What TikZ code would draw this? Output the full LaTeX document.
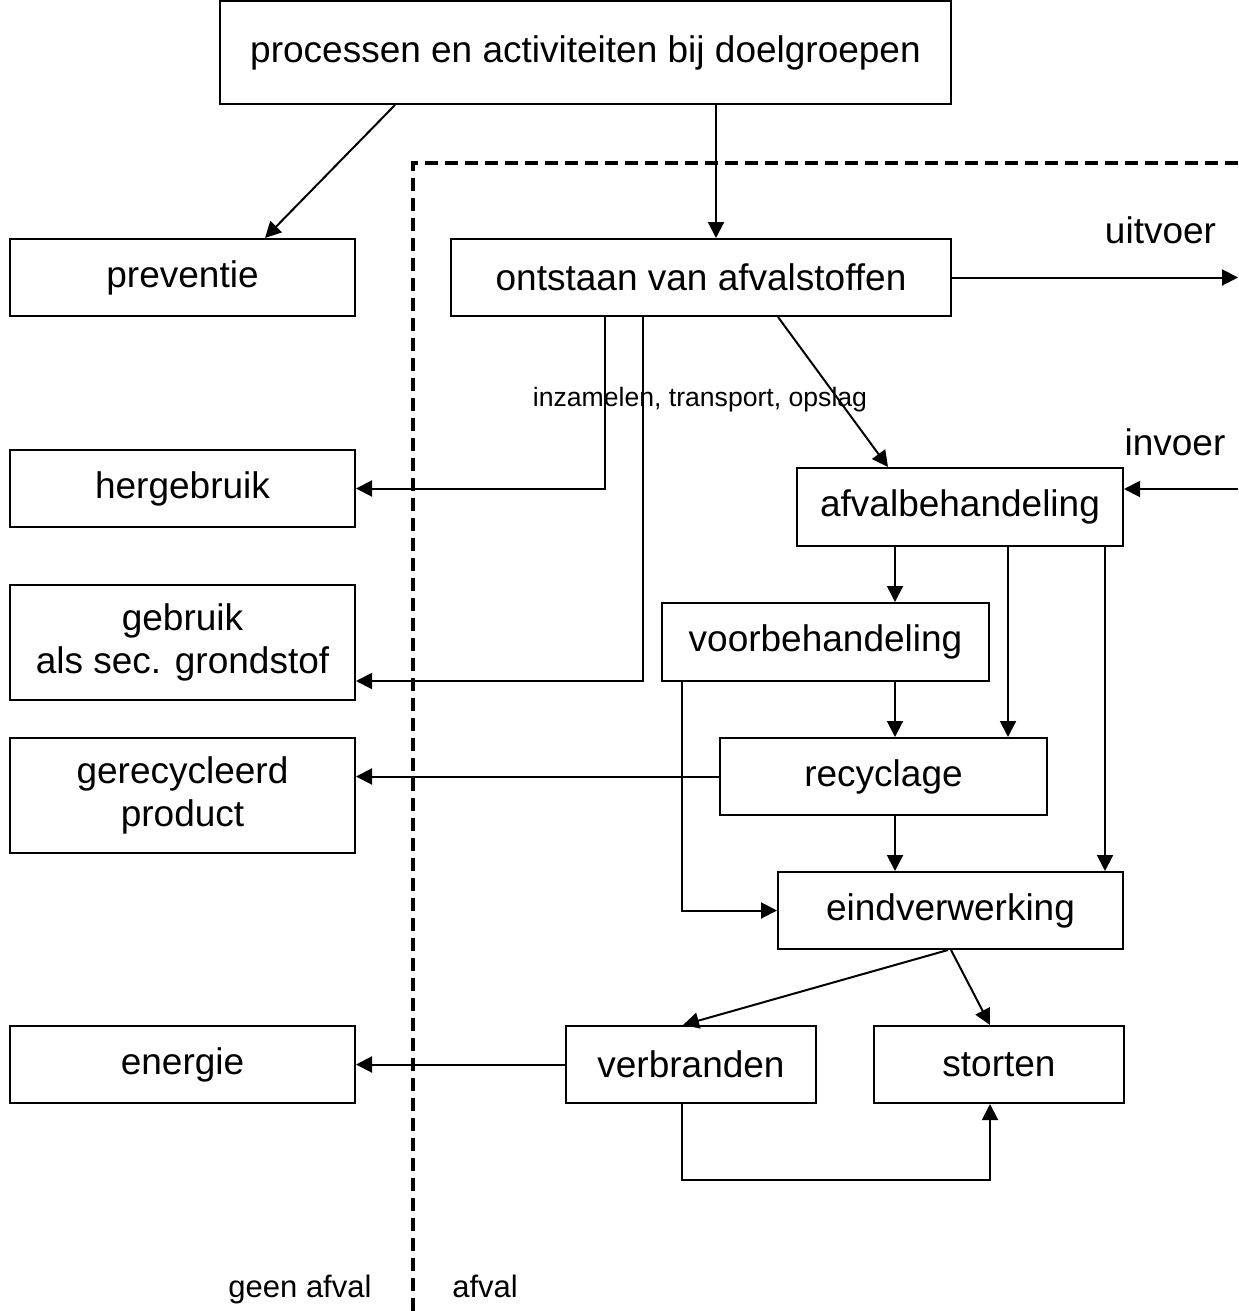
\documentclass[tikz,border=0pt]{standalone}
\usepackage{fontspec}
\setmainfont{Liberation Sans}
\usetikzlibrary{arrows.meta}
\begin{document}
\begin{tikzpicture}[x=0.5pt,y=-0.5pt,
  box/.style={draw,line width=1pt,inner sep=0pt,align=center,font=\fontsize{18.5}{21.5}\selectfont},
  arr/.style={line width=1pt,-{Triangle[length=8pt,width=8pt]}},
  dashline/.style={line width=1.7pt,dash pattern=on 6.5pt off 3.5pt},
  lbl/.style={inner sep=0pt,font=\fontsize{18.5}{21.5}\selectfont},
  smalllbl/.style={inner sep=0pt,font=\fontsize{13.3}{16}\selectfont},
  botlbl/.style={inner sep=0pt,anchor=base,font=\fontsize{15.5}{18}\selectfont}]
\useasboundingbox (0,0) rectangle (1238,1311);

\node[box,minimum width=365.5pt,minimum height=51.5pt] (top) at (585.5,52.5) {processen en activiteiten bij doelgroepen};
\node[box,minimum width=172.5pt,minimum height=38.5pt] (preventie) at (182.5,277.5) {preventie};
\node[box,minimum width=250pt,minimum height=38.5pt] (ontstaan) at (701,277.5) {ontstaan van afvalstoffen};
\node[box,minimum width=172.5pt,minimum height=38.5pt] (hergebruik) at (182.5,488.5) {hergebruik};
\node[box,minimum width=163pt,minimum height=39pt] (afvalbeh) at (960,507) {afvalbehandeling};
\node[box,minimum width=172.5pt,minimum height=57.5pt] (gebruik) at (182.5,642.5) {gebruik\\als sec. grondstof};
\node[box,minimum width=163.5pt,minimum height=39pt] (voorbeh) at (825.5,642) {voorbehandeling};
\node[box,minimum width=172.5pt,minimum height=57.5pt] (gerec) at (182.5,795.5) {gerecycleerd\\product};
\node[box,minimum width=163.5pt,minimum height=38.5pt] (recyclage) at (883.5,776.5) {recyclage};
\node[box,minimum width=172.5pt,minimum height=38.5pt] (eind) at (950.5,910.5) {eindverwerking};
\node[box,minimum width=172.5pt,minimum height=38.5pt] (energie) at (182.5,1064.5) {energie};
\node[box,minimum width=125pt,minimum height=38.5pt] (verbranden) at (691,1064.5) {verbranden};
\node[box,minimum width=125pt,minimum height=38.5pt] (storten) at (999,1064.5) {storten};

\node[lbl] (uitvoer) at (1160.5,230) {uitvoer};
\node[lbl] (invoer) at (1175,442) {invoer};
\node[smalllbl] (inzamelen) at (700,400) {inzamelen, transport, opslag};
\node[botlbl] (geen) at (300,1297) {geen afval};
\node[botlbl] (afval) at (485,1297) {afval};

\coordinate (uitE) at (1238,277.5);
\coordinate (invE) at (1238,489);

\draw[dashline] (413,1311) -- (413,163) -- (1238,163);

\draw[arr] (395,0 |- top.south) -- (265,0 |- preventie.north);
\draw[arr] (716,0 |- top.south) -- (716,0 |- ontstaan.north);
\draw[arr] (ontstaan.east) -- (uitE);
\draw[arr] (605,0 |- ontstaan.south) |- (hergebruik.east);
\draw[arr] (643,0 |- ontstaan.south) |- (gebruik.east |- 0,681);
\draw[arr] (778,0 |- ontstaan.south) -- (888,0 |- afvalbeh.north);
\draw[arr] (invE) -- (afvalbeh.east |- invE);
\draw[arr] (895,0 |- afvalbeh.south) -- (895,0 |- voorbeh.north);
\draw[arr] (1008,0 |- afvalbeh.south) -- (1008,0 |- recyclage.north);
\draw[arr] (1105,0 |- afvalbeh.south) -- (1105,0 |- eind.north);
\draw[arr] (895,0 |- voorbeh.south) -- (895,0 |- recyclage.north);
\draw[arr] (682,0 |- voorbeh.south) |- (eind.west);
\draw[arr] (recyclage.west) -- (gerec.east |- recyclage.west);
\draw[arr] (895,0 |- recyclage.south) -- (895,0 |- eind.north);
\draw[arr] (948,0 |- eind.south) -- (683,0 |- verbranden.north);
\draw[arr] (951,0 |- eind.south) -- (990,0 |- storten.north);
\draw[arr] (verbranden.west) -- (energie.east);
\draw[arr] (682,0 |- verbranden.south) -- (682,1180) -| (990,0 |- storten.south);
\end{tikzpicture}
\end{document}
